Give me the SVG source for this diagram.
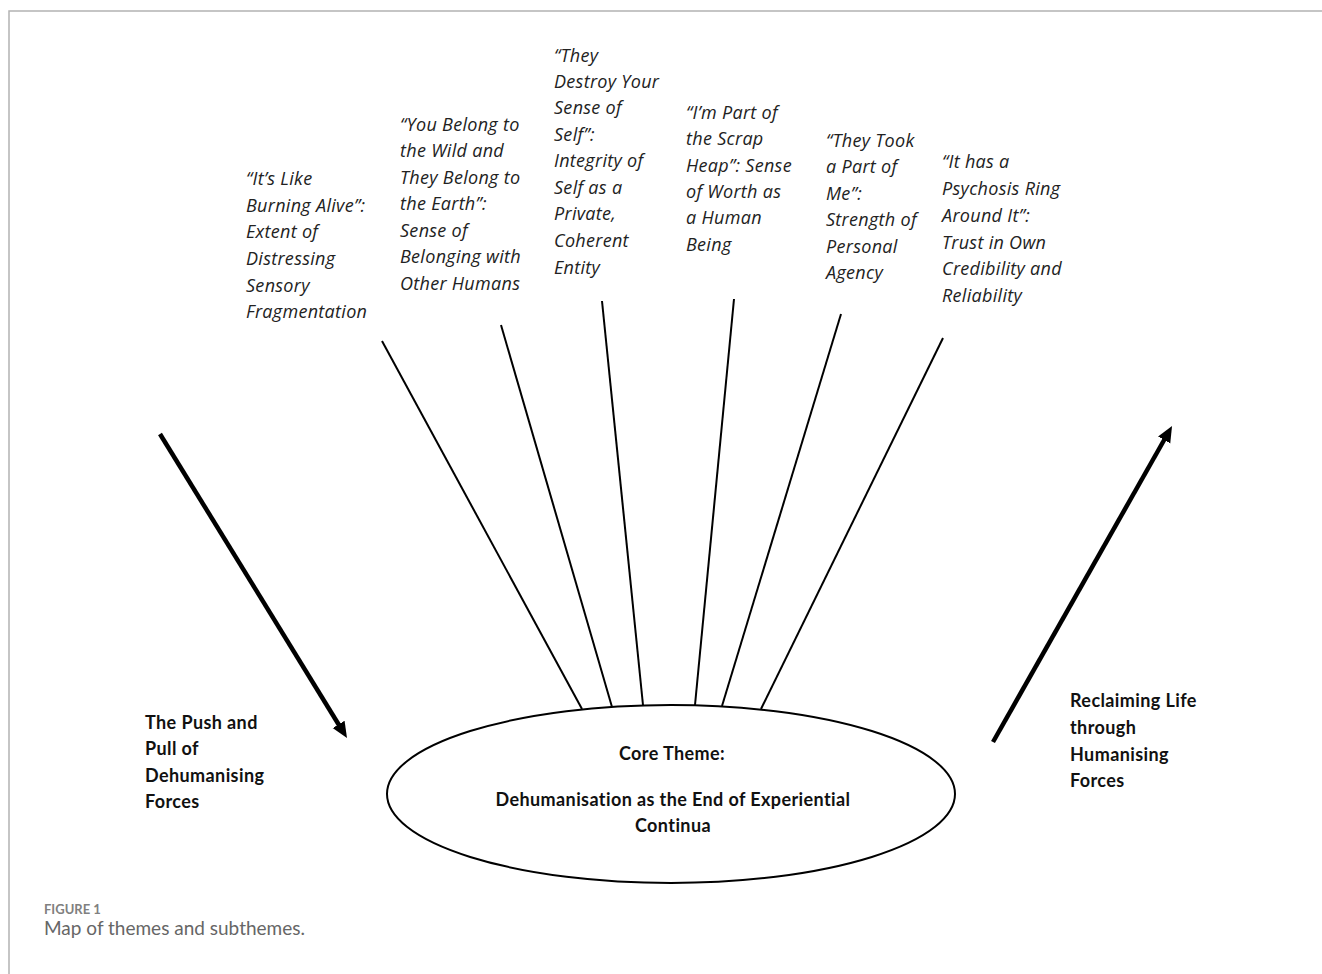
<svg xmlns="http://www.w3.org/2000/svg" width="1322" height="974" viewBox="0 0 1322 974">
<style>
.sub{font-family:"Open Sans","Liberation Sans",sans-serif;font-style:italic;font-size:18px;letter-spacing:0.3px;fill:#222}
.bold{font-family:Lato,"Liberation Sans",sans-serif;font-weight:bold;font-size:18px;letter-spacing:0.4px;fill:#111}
.spoke{stroke:#000;stroke-width:2;fill:none}
.thick{stroke:#000;stroke-width:4.5;fill:none}
.frame{stroke:#b3b3b3;stroke-width:1.5;fill:none}
</style>
<defs>
<marker id="ah" markerUnits="userSpaceOnUse" markerWidth="18" markerHeight="16" refX="8" refY="7" orient="auto">
<path d="M0,0 L16,7 L0,14 z" fill="#000"/>
</marker>
</defs>
<rect width="1322" height="974" fill="#fff"/>
<path class="frame" d="M9,974 V11 H1322"/>

<g id="connectors">
<line class="spoke" x1="382" y1="341" x2="582" y2="709"/>
<line class="spoke" x1="501" y1="325" x2="612" y2="707"/>
<line class="spoke" x1="602" y1="301" x2="643" y2="705"/>
<line class="spoke" x1="734" y1="299" x2="695" y2="705"/>
<line class="spoke" x1="841" y1="314" x2="722" y2="706"/>
<line class="spoke" x1="943" y1="338" x2="761" y2="709"/>
<line class="thick" x1="160" y1="434" x2="342.8" y2="731.2" marker-end="url(#ah)"/>
<line class="thick" x1="993" y1="742" x2="1168.1" y2="433" marker-end="url(#ah)"/>
</g>

<g id="core">
<ellipse cx="671" cy="794" rx="284" ry="89" fill="#fff" stroke="#000" stroke-width="2"/>
<text class="bold" text-anchor="middle" x="672" y="760">Core Theme:</text>
<text class="bold" text-anchor="middle" x="673" y="806">Dehumanisation as the End of Experiential</text>
<text class="bold" text-anchor="middle" x="673" y="832">Continua</text>
</g>

<g id="sub1">
<text class="sub" x="246" y="185">“It’s Like</text>
<text class="sub" x="246" y="212">Burning Alive”:</text>
<text class="sub" x="246" y="238">Extent of</text>
<text class="sub" x="246" y="265">Distressing</text>
<text class="sub" x="246" y="292">Sensory</text>
<text class="sub" x="246" y="318">Fragmentation</text>
</g>

<g id="sub2">
<text class="sub" x="400" y="131">“You Belong to</text>
<text class="sub" x="400" y="157">the Wild and</text>
<text class="sub" x="400" y="184">They Belong to</text>
<text class="sub" x="400" y="210">the Earth”:</text>
<text class="sub" x="400" y="237">Sense of</text>
<text class="sub" x="400" y="263">Belonging with</text>
<text class="sub" x="400" y="290">Other Humans</text>
</g>

<g id="sub3">
<text class="sub" x="554" y="62">“They</text>
<text class="sub" x="554" y="88">Destroy Your</text>
<text class="sub" x="554" y="114">Sense of</text>
<text class="sub" x="554" y="141">Self”:</text>
<text class="sub" x="554" y="167">Integrity of</text>
<text class="sub" x="554" y="194">Self as a</text>
<text class="sub" x="554" y="220">Private,</text>
<text class="sub" x="554" y="247">Coherent</text>
<text class="sub" x="554" y="274">Entity</text>
</g>

<g id="sub4">
<text class="sub" x="686" y="119">“I’m Part of</text>
<text class="sub" x="686" y="145">the Scrap</text>
<text class="sub" x="686" y="172">Heap”: Sense</text>
<text class="sub" x="686" y="198">of Worth as</text>
<text class="sub" x="686" y="224">a Human</text>
<text class="sub" x="686" y="251">Being</text>
</g>

<g id="sub5">
<text class="sub" x="826" y="147">“They Took</text>
<text class="sub" x="826" y="173">a Part of</text>
<text class="sub" x="826" y="200">Me”:</text>
<text class="sub" x="826" y="226">Strength of</text>
<text class="sub" x="826" y="253">Personal</text>
<text class="sub" x="826" y="279">Agency</text>
</g>

<g id="sub6">
<text class="sub" x="942" y="168">“It has a</text>
<text class="sub" x="942" y="195">Psychosis Ring</text>
<text class="sub" x="942" y="222">Around It”:</text>
<text class="sub" x="942" y="249">Trust in Own</text>
<text class="sub" x="942" y="275">Credibility and</text>
<text class="sub" x="942" y="302">Reliability</text>
</g>

<g id="push">
<text class="bold" x="145" y="729">The Push and</text>
<text class="bold" x="145" y="755">Pull of</text>
<text class="bold" x="145" y="782">Dehumanising</text>
<text class="bold" x="145" y="808">Forces</text>
</g>

<g id="reclaim">
<text class="bold" x="1070" y="707">Reclaiming Life</text>
<text class="bold" x="1070" y="734">through</text>
<text class="bold" x="1070" y="761">Humanising</text>
<text class="bold" x="1070" y="787">Forces</text>
</g>

<g id="caption">
<text x="44" y="914" font-family="Lato,'Liberation Sans',sans-serif" font-weight="bold" font-size="13" fill="#808080">FIGURE 1</text>
<text x="44" y="935" font-family="Lato,'Liberation Sans',sans-serif" font-size="19" fill="#666">Map of themes and subthemes.</text>
</g>
</svg>
